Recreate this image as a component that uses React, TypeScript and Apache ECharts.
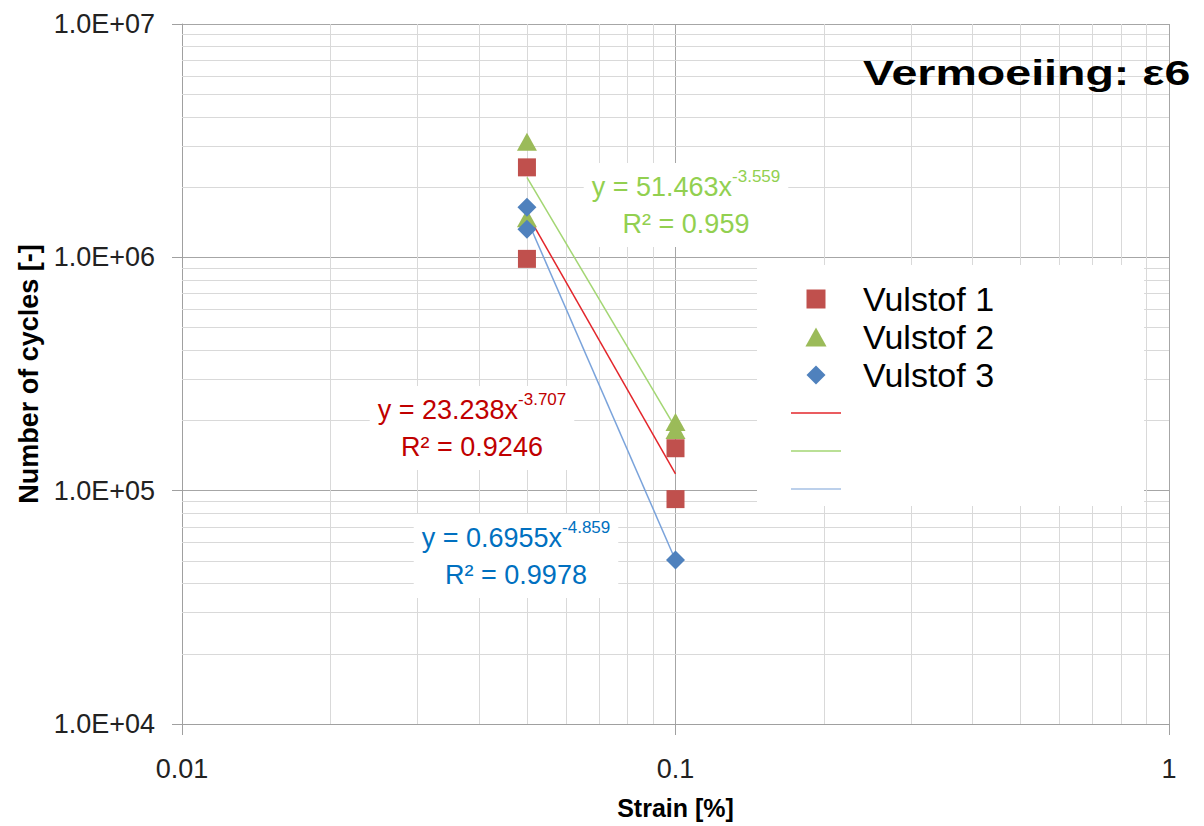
import React, { useEffect, useRef } from "react";
import * as echarts from "echarts";

// ---- data ----
const xTickValues = [0.01, 0.1, 1];
const xTickLabels = ["0.01", "0.1", "1"];
const yTickValues = [1e4, 1e5, 1e6, 1e7];
const yTickLabels = ["1.0E+04", "1.0E+05", "1.0E+06", "1.0E+07"];

const vulstof1 = [
  [0.05, 2.43e6],
  [0.05, 0.985e6],
  [0.1, 1.52e5],
  [0.1, 9.2e4],
];
const vulstof2 = [
  [0.05, 3.13e6],
  [0.05, 1.47e6],
  [0.1, 1.97e5],
  [0.1, 1.82e5],
];
const vulstof3 = [
  [0.05, 1.64e6],
  [0.05, 1.32e6],
  [0.1, 5.05e4],
];

// trendline end points as drawn (x = 0.05 .. 0.1)
const trend1 = [
  [0.05, 1.54e6],
  [0.1, 1.18e5],
];
const trend2 = [
  [0.05, 2.2e6],
  [0.1, 1.86e5],
];
const trend3 = [
  [0.05, 1.46e6],
  [0.1, 5.03e4],
];

const eq1 = { line1: "y = 23.238x", exp: "-3.707", r2: "R² = 0.9246" };
const eq2 = { line1: "y = 51.463x", exp: "-3.559", r2: "R² = 0.959" };
const eq3 = { line1: "y = 0.6955x", exp: "-4.859", r2: "R² = 0.9978" };

// minor grid positions (2..9 within each decade)
const minorSteps = [2, 3, 4, 5, 6, 7, 8, 9];
const xDecades = [0.01, 0.1];
const yDecades = [1e4, 1e5, 1e6];

const FONT = "'Liberation Sans', Arial, Helvetica, sans-serif";
const NARROW = "'Liberation Sans Narrow', 'Arial Narrow', 'Liberation Sans', sans-serif";

const ICON_SQUARE = "path://M0,0L10,0L10,10L0,10Z";
const ICON_TRIANGLE = "path://M5,0L10,9L0,9Z";
const ICON_DIAMOND = "path://M5,0L10,5L5,10L0,5Z";
const ICON_LINE = "path://M0,0L50,0L50,1.5L0,1.5Z";

function labelFor(values: number[], labels: string[], v: number) {
  let best = 0;
  let bd = Infinity;
  values.forEach((t, i) => {
    const d = Math.abs(Math.log10(t) - Math.log10(v));
    if (d < bd) {
      bd = d;
      best = i;
    }
  });
  return bd < 1e-6 ? labels[best] : "";
}

function eqText(e: { line1: string; exp: string; r2: string }) {
  return `{m|${e.line1}}{s|${e.exp}}\n{m|${e.r2}}`;
}

function eqGraphic(e: any, x: number, y: number, color: string) {
  return {
    type: "text",
    x,
    y,
    z: 50,
    silent: true,
    style: {
      text: eqText(e),
      align: "center",
      verticalAlign: "middle",
      backgroundColor: "#ffffff",
      padding: [5, 8, 5, 8],
      fill: color,
      fontFamily: FONT,
      rich: {
        m: { fontSize: 27, lineHeight: 37, fill: color, fontFamily: FONT },
        s: { fontSize: 17, lineHeight: 28, verticalAlign: "top", fill: color, fontFamily: FONT },
      },
    },
  };
}

export default function App() {
  const ref = useRef<HTMLDivElement>(null);

  useEffect(() => {
    document.body.style.margin = "0";
    if (!ref.current) return;
    const chart = echarts.init(ref.current, null, { renderer: "svg" });

    const minorX = xDecades.flatMap((d) => minorSteps.map((s) => ({ xAxis: d * s })));
    const minorY = yDecades.flatMap((d) => minorSteps.map((s) => ({ yAxis: d * s })));

    const axisColor = "#a0a0a0";

    chart.setOption({
      animation: false,
      backgroundColor: "#ffffff",
      grid: { left: 182, right: 35, top: 24, bottom: 102, containLabel: false },
      xAxis: {
        type: "log",
        logBase: 10,
        min: 0.01,
        max: 1,
        name: "Strain [%]",
        nameLocation: "middle",
        nameGap: 71,
        nameTextStyle: { fontSize: 25, fontWeight: "bold", color: "#000", fontFamily: FONT },
        axisLine: { show: true, onZero: false, lineStyle: { color: axisColor, width: 1 } },
        axisTick: { show: true, length: 11, lineStyle: { color: axisColor } },
        axisLabel: {
          margin: 31,
          fontSize: 27,
          color: "#222",
          fontFamily: NARROW,
          formatter: (v: number) => labelFor(xTickValues, xTickLabels, v),
        },
        splitLine: { show: true, lineStyle: { color: "#a6a6a6", width: 1 } },
      },
      yAxis: {
        type: "log",
        logBase: 10,
        min: 1e4,
        max: 1e7,
        name: "Number of cycles [-]",
        nameLocation: "middle",
        nameRotate: 90,
        nameGap: 138,
        nameTextStyle: { fontSize: 27, fontWeight: "bold", color: "#000", fontFamily: FONT },
        axisLine: { show: true, onZero: false, lineStyle: { color: axisColor, width: 1 } },
        axisTick: { show: true, length: 10, lineStyle: { color: axisColor } },
        axisLabel: {
          margin: 27,
          fontSize: 27,
          color: "#222",
          fontFamily: NARROW,
          formatter: (v: number) => labelFor(yTickValues, yTickLabels, v),
        },
        splitLine: { show: true, lineStyle: { color: "#a6a6a6", width: 1 } },
      },
      legend: {
        orient: "vertical",
        left: 757,
        top: 265,
        z: 10,
        backgroundColor: "#ffffff",
        padding: [17, 150, 0, 34],
        itemWidth: 50,
        itemHeight: 19,
        itemGap: 4,
        selectedMode: false,
        symbolKeepAspect: true,
        data: [
          { name: "Vulstof 1", icon: ICON_SQUARE },
          { name: "Vulstof 2", icon: ICON_TRIANGLE },
          { name: "Vulstof 3", icon: ICON_DIAMOND },
          { name: "Trend 1", icon: ICON_LINE },
          { name: "Trend 2", icon: ICON_LINE },
          { name: "Trend 3", icon: ICON_LINE },
        ],
        formatter: (n: string) => (n.indexOf("Trend") === 0 ? " " : n),
        textStyle: {
          fontSize: 34,
          color: "#000",
          fontFamily: FONT,
          padding: [0, 0, 0, 17],
        },
      },
      graphic: [
        {
          type: "text",
          x: 863,
          y: 73,
          z: 60,
          scaleX: 1.33,
          silent: true,
          style: {
            text: "Vermoeiing: ε6",
            fill: "#000",
            fontSize: 35,
            fontWeight: "bold",
            fontFamily: FONT,
            verticalAlign: "middle",
            align: "left",
          },
        },
        eqGraphic(eq2, 686, 205, "#92d050"),
        eqGraphic(eq1, 472, 428, "#c00000"),
        eqGraphic(eq3, 516, 556, "#0070c0"),
      ],
      series: [
        {
          name: "minorGrid",
          type: "line",
          data: [],
          z: 1,
          silent: true,
          markLine: {
            z: 1,
            silent: true,
            symbol: ["none", "none"],
            label: { show: false },
            animation: false,
            lineStyle: { color: "#d9d9d9", width: 1, type: "solid" },
            emphasis: { disabled: true },
            data: [...minorX, ...minorY],
          },
        },
        {
          name: "Trend 1",
          type: "line",
          data: trend1,
          symbol: "none",
          z: 2,
          lineStyle: { color: "#e3262b", width: 1.5 },
          itemStyle: { color: "#e3262b" },
        },
        {
          name: "Trend 2",
          type: "line",
          data: trend2,
          symbol: "none",
          z: 2,
          lineStyle: { color: "#a3d673", width: 1.5 },
          itemStyle: { color: "#a3d673" },
        },
        {
          name: "Trend 3",
          type: "line",
          data: trend3,
          symbol: "none",
          z: 2,
          lineStyle: { color: "#7aa3db", width: 1.5 },
          itemStyle: { color: "#a6c0e4" },
        },
        {
          name: "Vulstof 1",
          type: "scatter",
          data: vulstof1,
          symbol: "rect",
          symbolSize: 18,
          z: 3,
          itemStyle: { color: "#c0504d", opacity: 1 },
        },
        {
          name: "Vulstof 2",
          type: "scatter",
          data: vulstof2,
          symbol: "triangle",
          symbolSize: [20, 18],
          z: 3,
          itemStyle: { color: "#9bbb59", opacity: 1 },
        },
        {
          name: "Vulstof 3",
          type: "scatter",
          data: vulstof3,
          symbol: "diamond",
          symbolSize: [19, 19],
          z: 3,
          itemStyle: { color: "#4f81bd", opacity: 1 },
        },
      ],
    });

    return () => chart.dispose();
  }, []);

  return <div ref={ref} style={{ width: 1204, height: 826 }} />;
}
